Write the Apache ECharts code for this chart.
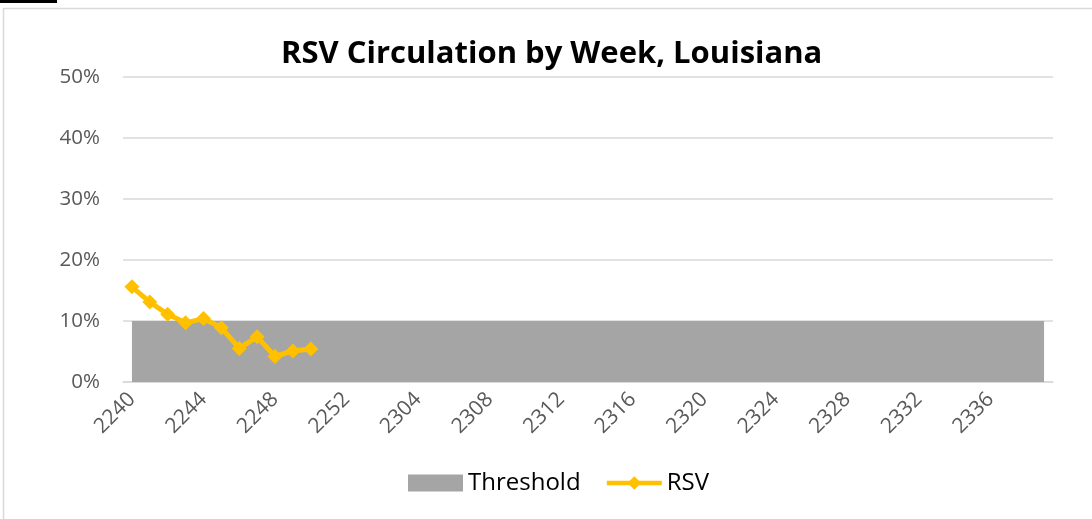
<!DOCTYPE html>
<html><head><meta charset="utf-8">
<script src="https://cdn.jsdelivr.net/npm/echarts@6/dist/echarts.min.js"></script>
<style>html,body{margin:0;padding:0;background:#fff}#c{width:1092px;height:519px}</style>
</head><body><div id="c"></div>
<script>
const weeks = ['2240','2241','2242','2243','2244','2245','2246','2247','2248','2249','2250','2251','2252',
'2301','2302','2303','2304','2305','2306','2307','2308','2309','2310','2311','2312','2313','2314','2315','2316','2317','2318','2319','2320',
'2321','2322','2323','2324','2325','2326','2327','2328','2329','2330','2331','2332','2333','2334','2335','2336','2337','2338','2339'];
const rsv = [15.6, 13.1, 11.1, 9.7, 10.4, 8.9, 5.5, 7.4, 4.2, 5.1, 5.4];
const thresholdValue = 10;
const threshold = weeks.map(() => thresholdValue);

const chart = echarts.init(document.getElementById('c'));
const font = '"Open Sans", Lato, sans-serif';
chart.setOption({
  animation: false,
  title: {
    text: 'RSV Circulation by Week, Louisiana',
    left: 276, top: 34,
    textStyle: {fontFamily: font, fontSize: 31, fontWeight: 'bold', color: '#000'}
  },
  graphic: [
    {type: 'rect', shape: {x: 3.5, y: 8.5, width: 1100, height: 530}, style: {fill: 'none', stroke: '#d9d9d9', lineWidth: 1.5}, z: -1},
    {type: 'rect', shape: {x: 0, y: 0, width: 57, height: 3}, style: {fill: '#000'}}
  ],
  legend: {
    bottom: 19, left: 403,
    itemWidth: 55, itemHeight: 17, itemGap: 24,
    textStyle: {fontFamily: font, fontSize: 24, color: '#000'},
    data: [
      {name: 'Threshold', icon: 'rect'},
      {name: 'RSV', lineStyle: {width: 4.5, color: '#ffc000'}, itemStyle: {color: '#ffc000'}}
    ]
  },
  grid: {left: 123, right: 39, top: 77, bottom: 137},
  xAxis: {
    type: 'category', data: weeks, boundaryGap: true,
    axisLine: {show: true, lineStyle: {color: '#d9d9d9', width: 1.5}},
    axisTick: {show: false},
    axisLabel: {interval: 3, rotate: 45, fontFamily: font, fontSize: 21, color: '#595959', margin: 14}
  },
  yAxis: {
    type: 'value', min: 0, max: 50, interval: 10,
    axisLine: {show: false}, axisTick: {show: false},
    axisLabel: {formatter: v => v + '%', fontFamily: font, fontSize: 20.5, color: '#595959', margin: 23},
    splitLine: {lineStyle: {color: '#d9d9d9', width: 1.5}}
  },
  series: [
    {name: 'Threshold', type: 'line', data: threshold, symbol: 'none',
     lineStyle: {width: 0}, itemStyle: {color: '#a5a5a5'},
     areaStyle: {color: '#a5a5a5', opacity: 1}},
    {name: 'RSV', type: 'line', data: rsv, symbol: 'diamond', symbolSize: 15, showAllSymbol: true,
     itemStyle: {color: '#ffc000'}, lineStyle: {color: '#ffc000', width: 5}, z: 5}
  ]
});
</script></body></html>
